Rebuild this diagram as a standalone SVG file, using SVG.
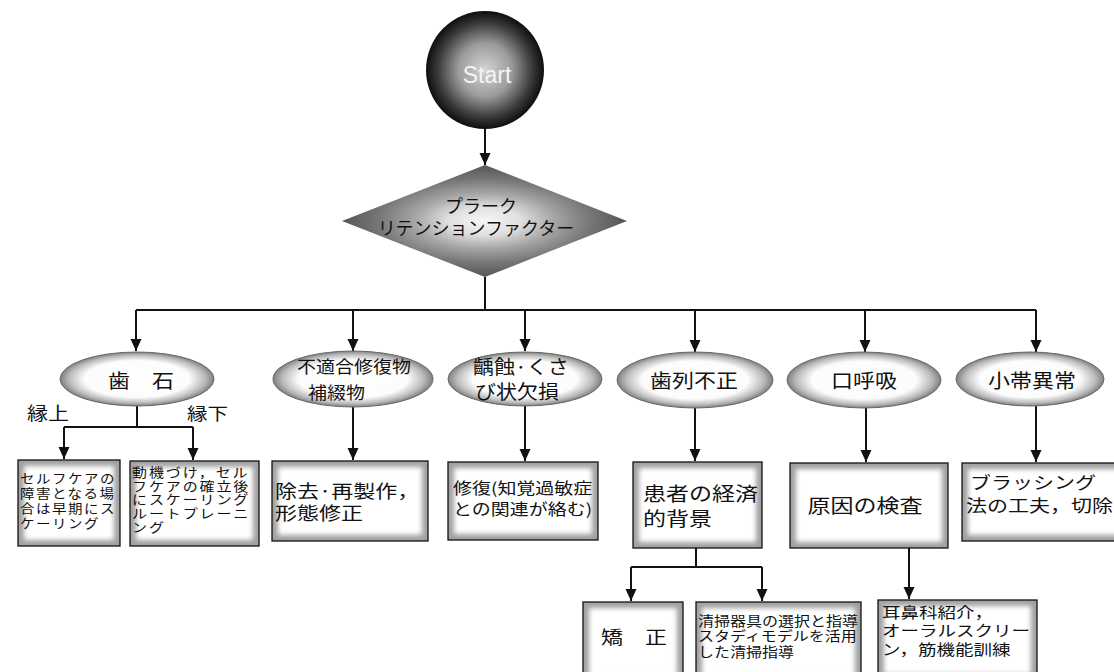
<svg xmlns="http://www.w3.org/2000/svg" width="1114" height="672" viewBox="0 0 1114 672">
<defs>
<style>
.jp{font-family:"Noto Sans CJK JP","Noto Sans",sans-serif;fill:#111}
.ln{fill:none;stroke:#111;stroke-width:2}
.arr{marker-end:url(#ah)}
.ell{fill:url(#gEll);stroke:#666;stroke-width:1}
.bo{fill:#a0a0a0;stroke:#111;stroke-width:1.3}
.bi{fill:#fff;filter:url(#soft)}
</style>
<marker id="ah" markerUnits="userSpaceOnUse" markerWidth="12" markerHeight="12" refX="12" refY="5.5" orient="auto">
<path d="M0,0 L12,5.5 L0,11 z" fill="#111"/>
</marker>
<radialGradient id="gStart" cx="50%" cy="50%" r="50%">
<stop offset="0" stop-color="#d4d4d4"/><stop offset="0.45" stop-color="#9c9c9c"/><stop offset="0.8" stop-color="#3a3a3a"/><stop offset="1" stop-color="#0e0e0e"/>
</radialGradient>
<radialGradient id="gEll" cx="50%" cy="50%" r="50%">
<stop offset="0" stop-color="#fff"/><stop offset="0.68" stop-color="#fcfcfc"/><stop offset="0.88" stop-color="#bcbcbc"/><stop offset="1" stop-color="#808080"/>
</radialGradient>
<radialGradient id="gDia" cx="50%" cy="50%" r="50%">
<stop offset="0" stop-color="#f6f6f6"/><stop offset="0.25" stop-color="#e0e0e0"/><stop offset="0.5" stop-color="#a4a4a4"/><stop offset="0.75" stop-color="#767676"/><stop offset="1" stop-color="#555"/>
</radialGradient>
<filter id="soft" x="-10%" y="-10%" width="120%" height="120%"><feGaussianBlur stdDeviation="2.5"/></filter>
</defs>
<rect width="1114" height="672" fill="#fff"/>

<g id="connectors">
<path class="ln arr" d="M485,129 V165"/>
<path class="ln" d="M485,277 V310 M136,310 H1036"/>
<path class="ln arr" d="M136,310 V351"/>
<path class="ln arr" d="M353,310 V351"/>
<path class="ln arr" d="M525,310 V351"/>
<path class="ln arr" d="M695,310 V352"/>
<path class="ln arr" d="M865,310 V352"/>
<path class="ln arr" d="M1036,310 V352"/>
<path class="ln" d="M137,406 V427 M64,427 H193"/>
<path class="ln arr" d="M64,427 V459"/>
<path class="ln arr" d="M193,427 V460"/>
<path class="ln arr" d="M353,407 V460"/>
<path class="ln arr" d="M525,406 V461"/>
<path class="ln arr" d="M695,407 V461"/>
<path class="ln arr" d="M866,407 V462"/>
<path class="ln arr" d="M1036,406 V462"/>
<path class="ln" d="M696,548 V567 M631,567 H762"/>
<path class="ln arr" d="M631,567 V601"/>
<path class="ln arr" d="M762,567 V601"/>
<path class="ln arr" d="M909,548 V599"/>
</g>

<g id="start">
<circle cx="485" cy="70" r="59" fill="url(#gStart)"/>
<text x="487" y="83" text-anchor="middle" font-family="Liberation Sans, sans-serif" font-size="23" fill="#f4f4f4">Start</text>
</g>

<g id="plaque">
<polygon points="485,165 627,221 485,277 342,221" fill="url(#gDia)"/>
<text class="jp" x="481" y="213" text-anchor="middle" font-size="18">プラーク</text>
<text class="jp" x="476" y="235" text-anchor="middle" font-size="18">リテンションファクター</text>
</g>

<g id="calculus">
<ellipse class="ell" cx="137" cy="379" rx="77" ry="27"/>
<text class="jp" transform="translate(0,387.5) scale(1,0.9)" x="141" y="0" text-anchor="middle" font-size="22">歯　石</text>
</g>
<g id="label-supra"><text class="jp" transform="translate(0,420) scale(1,0.85)" x="27" y="0" font-size="21">縁上</text></g>
<g id="label-sub"><text class="jp" transform="translate(0,420) scale(1,0.85)" x="187" y="0" font-size="20.5">縁下</text></g>

<g id="restoration">
<ellipse class="ell" cx="353" cy="379" rx="80" ry="28"/>
<text class="jp" transform="translate(0,372.5) scale(1,0.9)" font-size="19"><tspan x="297" y="0">不適合修復物</tspan><tspan x="308" y="28.9">補綴物</tspan></text>
</g>

<g id="caries">
<ellipse class="ell" cx="525" cy="379" rx="77" ry="27"/>
<text class="jp" transform="translate(0,374) scale(1,0.9)" font-size="21"><tspan x="473" y="0">齲蝕·くさ</tspan><tspan x="475" y="27.8">び状欠損</tspan></text>
</g>

<g id="malocclusion">
<ellipse class="ell" cx="695" cy="380" rx="78" ry="28"/>
<text class="jp" transform="translate(0,388) scale(1,0.9)" x="694" y="0" text-anchor="middle" font-size="22">歯列不正</text>
</g>

<g id="mouth-breathing">
<ellipse class="ell" cx="864" cy="380" rx="77" ry="28"/>
<text class="jp" transform="translate(0,388) scale(1,0.9)" x="864" y="0" text-anchor="middle" font-size="22">口呼吸</text>
</g>

<g id="frenum">
<ellipse class="ell" cx="1030" cy="379" rx="74" ry="27"/>
<text class="jp" transform="translate(0,388) scale(1,0.9)" x="1032" y="0" text-anchor="middle" font-size="22">小帯異常</text>
</g>

<g id="box-supra">
<rect class="bo" x="18" y="460" width="102" height="86"/>
<rect class="bi" x="24" y="466" width="90" height="74"/>
<text class="jp" transform="translate(0,483) scale(1,0.88)" font-size="14.5" letter-spacing="1.5"><tspan x="20" y="0">セルフケアの</tspan><tspan x="20" y="17.05">障害となる場</tspan><tspan x="20" y="34.1">合は早期にス</tspan><tspan x="20" y="51.15">ケーリング</tspan></text>
</g>

<g id="box-sub">
<rect class="bo" x="130" y="461" width="129" height="85"/>
<rect class="bi" x="136" y="467" width="117" height="73"/>
<text class="jp" transform="translate(0,477) scale(1,0.85)" font-size="15" letter-spacing="1.9"><tspan x="132" y="0">動機づけ，セル</tspan><tspan x="132" y="16.18">フケアの確立後</tspan><tspan x="132" y="32.36">にスケーリング</tspan><tspan x="132" y="48.54">ルートプレーニ</tspan><tspan x="132" y="64.72">ング</tspan></text>
</g>

<g id="box-remake">
<rect class="bo" x="272" y="461" width="156" height="80"/>
<rect class="bi" x="278" y="467" width="144" height="68"/>
<text class="jp" transform="translate(0,498) scale(1,0.82)" font-size="22"><tspan x="275" y="0">除去·再製作，</tspan><tspan x="275" y="26.83">形態修正</tspan></text>
</g>

<g id="box-repair">
<rect class="bo" x="448" y="462" width="150" height="78"/>
<rect class="bi" x="454" y="468" width="138" height="66"/>
<text class="jp" transform="translate(0,494) scale(1,0.82)" font-size="19"><tspan x="453" y="0">修復(知覚過敏症</tspan><tspan x="453" y="25.6">との関連が絡む)</tspan></text>
</g>

<g id="box-economic">
<rect class="bo" x="633" y="462" width="129" height="86"/>
<rect class="bi" x="639" y="468" width="117" height="74"/>
<text class="jp" transform="translate(0,501) scale(1,0.82)" font-size="23"><tspan x="643" y="0">患者の経済</tspan><tspan x="643" y="30.5">的背景</tspan></text>
</g>

<g id="box-cause">
<rect class="bo" x="790" y="463" width="158" height="85"/>
<rect class="bi" x="796" y="469" width="146" height="73"/>
<text class="jp" transform="translate(0,513) scale(1,0.82)" x="865" y="0" text-anchor="middle" font-size="23">原因の検査</text>
</g>

<g id="box-brushing">
<rect class="bo" x="962" y="463" width="170" height="78"/>
<rect class="bi" x="968" y="469" width="158" height="66"/>
<text class="jp" transform="translate(0,489) scale(1,0.82)" font-size="21"><tspan x="970" y="0">ブラッシング</tspan><tspan x="966" y="28.05">法の工夫，切除</tspan></text>
</g>

<g id="box-ortho">
<rect class="bo" x="583" y="602" width="100" height="80"/>
<rect class="bi" x="589" y="608" width="88" height="68"/>
<text class="jp" transform="translate(0,644) scale(1,0.82)" x="601" y="0" font-size="22">矯　正</text>
</g>

<g id="box-cleaning">
<rect class="bo" x="696" y="602" width="165" height="80"/>
<rect class="bi" x="702" y="608" width="153" height="68"/>
<text class="jp" transform="translate(0,626) scale(1,0.82)" font-size="16"><tspan x="698" y="0">清掃器具の選択と指導</tspan><tspan x="698" y="18.3">スタディモデルを活用</tspan><tspan x="698" y="37.8">した清掃指導</tspan></text>
</g>

<g id="box-ent">
<rect class="bo" x="878" y="600" width="159" height="80"/>
<rect class="bi" x="884" y="606" width="147" height="68"/>
<text class="jp" transform="translate(0,618) scale(1,0.82)" font-size="18.5"><tspan x="882" y="0">耳鼻科紹介，</tspan><tspan x="882" y="21.95">オーラルスクリー</tspan><tspan x="882" y="45.1">ン，筋機能訓練</tspan></text>
</g>
</svg>
